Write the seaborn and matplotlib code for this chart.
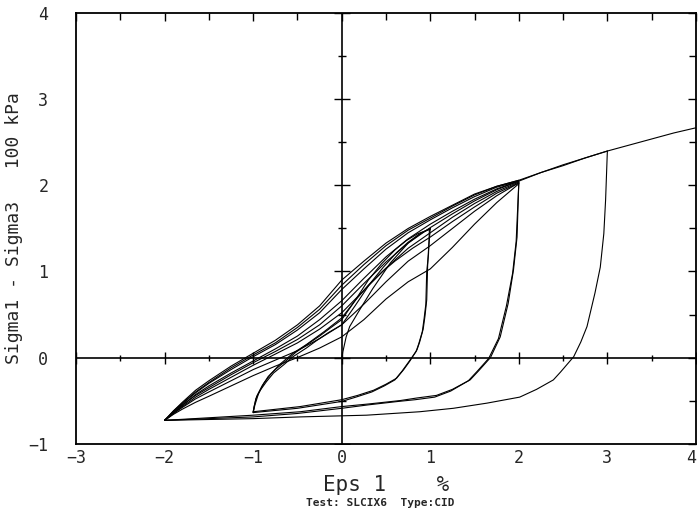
import matplotlib
matplotlib.use("Agg")
import matplotlib.pyplot as plt
import numpy as np
import pandas as pd
import seaborn as sns

# Strain (Eps 1, %) and deviator stress (100 kPa), one list per branch
first_load_x = [0.0, 0.02, 0.05, 0.09, 0.2, 0.35, 0.55, 0.75, 0.9, 1.0]
first_load_y = [0.0, 0.10, 0.24, 0.36, 0.55, 0.80, 1.10, 1.33, 1.45, 1.50]

unload1a_x = [1.0, 0.98, 0.97, 0.96, 0.94, 0.92, 0.88, 0.85, 0.77, 0.70, 0.62, 0.50, 0.36, 0.18, 0.0, -0.47, -1.0]
unload1a_y = [1.50, 1.25, 1.06, 0.67, 0.48, 0.33, 0.18, 0.09, -0.04, -0.14, -0.24, -0.31, -0.38, -0.44, -0.49, -0.57, -0.63]
unload1b_x = [0.99, 0.98, 0.96, 0.95, 0.93, 0.91, 0.87, 0.84, 0.75, 0.68, 0.60, 0.48, 0.34, 0.16, 0.0, -0.5, -1.0]
unload1b_y = [1.48, 1.20, 1.00, 0.62, 0.45, 0.30, 0.16, 0.07, -0.06, -0.16, -0.26, -0.33, -0.40, -0.46, -0.51, -0.59, -0.64]

reload1a_x = [-1.0, -0.99, -0.97, -0.92, -0.85, -0.77, -0.65, -0.55, -0.40, -0.28, -0.15, 0.0, 0.15, 0.32, 0.47, 0.62, 0.75, 0.87, 1.0]
reload1a_y = [-0.63, -0.58, -0.48, -0.38, -0.28, -0.18, -0.08, 0.01, 0.11, 0.20, 0.29, 0.38, 0.60, 0.86, 1.05, 1.22, 1.34, 1.43, 1.50]
reload1b_x = [-1.0, -0.99, -0.96, -0.90, -0.83, -0.74, -0.62, -0.52, -0.38, -0.25, -0.12, 0.0, 0.15, 0.30, 0.45, 0.60, 0.73, 0.86, 1.0]
reload1b_y = [-0.64, -0.57, -0.45, -0.33, -0.22, -0.13, -0.03, 0.06, 0.16, 0.25, 0.35, 0.44, 0.66, 0.90, 1.09, 1.25, 1.36, 1.44, 1.49]
reload1c_x = [-1.0, -0.98, -0.94, -0.88, -0.80, -0.70, -0.55, -0.40, -0.20, 0.0, 0.15, 0.30, 0.45, 0.60, 0.80, 1.0, 1.25, 1.5, 1.75, 2.0]
reload1c_y = [-0.64, -0.55, -0.42, -0.30, -0.19, -0.08, 0.05, 0.15, 0.30, 0.46, 0.66, 0.84, 0.99, 1.12, 1.27, 1.40, 1.58, 1.75, 1.91, 2.03]

unload2a_x = [2.0, 1.98, 1.94, 1.88, 1.79, 1.68, 1.55, 1.45, 1.25, 1.07, 0.85, 0.66, 0.30, 0.0, -0.47, -1.0, -1.5, -2.0]
unload2a_y = [2.04, 1.40, 1.02, 0.63, 0.24, 0.0, -0.15, -0.26, -0.37, -0.44, -0.47, -0.50, -0.54, -0.57, -0.63, -0.67, -0.70, -0.73]
unload2b_x = [2.0, 1.97, 1.93, 1.86, 1.77, 1.66, 1.53, 1.43, 1.23, 1.05, 0.83, 0.64, 0.30, 0.0, -0.5, -1.0, -1.5, -2.0]
unload2b_y = [2.03, 1.35, 0.98, 0.60, 0.22, -0.01, -0.16, -0.27, -0.39, -0.46, -0.49, -0.51, -0.55, -0.59, -0.65, -0.69, -0.71, -0.73]

# reloading branches from -2 % back up to +2 %
reload2_x = [-2.0, -1.9, -1.8, -1.65, -1.5, -1.25, -1.0, -0.75, -0.5, -0.25, 0.0, 0.25, 0.5, 0.75, 1.0, 1.25, 1.5, 1.75, 2.0]
reload2a_y = [-0.73, -0.62, -0.52, -0.38, -0.27, -0.10, 0.05, 0.20, 0.38, 0.60, 0.90, 1.12, 1.33, 1.50, 1.64, 1.77, 1.90, 1.99, 2.06]
reload2b_y = [-0.73, -0.63, -0.54, -0.41, -0.30, -0.14, 0.01, 0.15, 0.32, 0.52, 0.79, 1.03, 1.26, 1.45, 1.60, 1.74, 1.87, 1.98, 2.05]
reload2c_y = [-0.73, -0.64, -0.56, -0.43, -0.33, -0.18, -0.04, 0.10, 0.25, 0.44, 0.66, 0.92, 1.17, 1.38, 1.55, 1.70, 1.84, 1.96, 2.05]
reload2d_y = [-0.73, -0.65, -0.57, -0.46, -0.37, -0.23, -0.09, 0.04, 0.17, 0.33, 0.52, 0.78, 1.04, 1.27, 1.45, 1.63, 1.79, 1.93, 2.04]
reload2e_y = [-0.73, -0.65, -0.58, -0.48, -0.40, -0.27, -0.14, -0.03, 0.08, 0.22, 0.38, 0.62, 0.88, 1.12, 1.30, 1.50, 1.70, 1.88, 2.03]
reload2f_y = [-0.73, -0.66, -0.60, -0.52, -0.45, -0.33, -0.21, -0.10, 0.00, 0.11, 0.24, 0.44, 0.68, 0.88, 1.03, 1.28, 1.55, 1.80, 2.02]

# reloading from -2 % on to +3 %
reload3_x = [-2.0, -1.9, -1.8, -1.65, -1.5, -1.25, -1.0, -0.75, -0.5, -0.25, 0.0, 0.25, 0.5, 0.75, 1.0, 1.25, 1.5, 1.75, 2.0, 2.25, 2.5, 2.75, 3.0]
reload3_y = [-0.73, -0.62, -0.53, -0.40, -0.29, -0.12, 0.03, 0.17, 0.35, 0.56, 0.84, 1.08, 1.30, 1.48, 1.62, 1.76, 1.89, 1.99, 2.06, 2.15, 2.24, 2.32, 2.40]

unload3_x = [3.0, 2.98, 2.96, 2.92, 2.86, 2.77, 2.70, 2.62, 2.47, 2.39, 2.20, 2.01, 1.64, 1.26, 0.88, 0.28, -0.47, -1.0, -1.5, -2.0]
unload3_y = [2.40, 1.83, 1.44, 1.05, 0.75, 0.36, 0.18, 0.01, -0.17, -0.26, -0.37, -0.46, -0.53, -0.59, -0.63, -0.67, -0.69, -0.71, -0.72, -0.73]

# final reloading from -2 % up to +4 %
reload4_x = [-2.0, -1.9, -1.8, -1.65, -1.5, -1.25, -1.0, -0.75, -0.5, -0.25, 0.0, 0.25, 0.5, 0.75, 1.0, 1.25, 1.5, 1.75, 2.0, 2.25, 2.5, 2.75, 3.0, 3.25, 3.5, 3.75, 4.0]
reload4_y = [-0.73, -0.64, -0.55, -0.44, -0.35, -0.20, -0.06, 0.07, 0.21, 0.38, 0.60, 0.86, 1.11, 1.33, 1.51, 1.67, 1.82, 1.95, 2.05, 2.15, 2.23, 2.32, 2.40, 2.47, 2.54, 2.61, 2.67]

branches = {
    "first load": (first_load_x, first_load_y),
    "unload 1a": (unload1a_x, unload1a_y),
    "unload 1b": (unload1b_x, unload1b_y),
    "reload 1a": (reload1a_x, reload1a_y),
    "reload 1b": (reload1b_x, reload1b_y),
    "reload 1c": (reload1c_x, reload1c_y),
    "unload 2a": (unload2a_x, unload2a_y),
    "unload 2b": (unload2b_x, unload2b_y),
    "reload 2a": (reload2_x, reload2a_y),
    "reload 2b": (reload2_x, reload2b_y),
    "reload 2c": (reload2_x, reload2c_y),
    "reload 2d": (reload2_x, reload2d_y),
    "reload 2e": (reload2_x, reload2e_y),
    "reload 2f": (reload2_x, reload2f_y),
    "reload 3": (reload3_x, reload3_y),
    "unload 3": (unload3_x, unload3_y),
    "reload 4": (reload4_x, reload4_y),
}

df = pd.concat(
    [pd.DataFrame({"eps": bx, "q": by, "branch": name}) for name, (bx, by) in branches.items()],
    ignore_index=True,
)

sns.set_style("white")
plt.rcParams["font.family"] = ["DejaVu Sans Mono", "DejaVu Sans"]

fig = plt.figure(figsize=(6.98, 5.14), dpi=100)
ax = fig.add_axes([0.109, 0.137, 0.888, 0.837])

sns.lineplot(data=df, x="eps", y="q", units="branch", estimator=None, sort=False,
             color="black", lw=0.8, ax=ax)

# zero axes with cross ticks
ax.axhline(0, color="black", lw=1.2)
ax.axvline(0, color="black", lw=1.2)
xt_major = np.arange(-3, 5, 1)
xt_minor = np.arange(-2.5, 4, 1)
yt_major = np.arange(-1, 5, 1)
yt_minor = np.arange(-0.5, 4, 1)
ax.plot(xt_major, np.zeros_like(xt_major), ls="none", marker="|", ms=9, mew=1.0, color="black")
ax.plot(xt_minor, np.zeros_like(xt_minor), ls="none", marker="|", ms=5, mew=1.0, color="black")
ax.plot(np.zeros_like(yt_major), yt_major, ls="none", marker="_", ms=12, mew=1.0, color="black")
ax.plot(np.zeros_like(yt_minor), yt_minor, ls="none", marker="_", ms=6, mew=1.0, color="black")

ax.set_xlim(-3, 4)
ax.set_ylim(-1, 4)
ax.set_xticks(xt_major)
ax.set_xticks(xt_minor, minor=True)
ax.set_yticks(yt_major)
ax.set_yticks(yt_minor, minor=True)
ax.tick_params(which="both", direction="in", top=True, right=True, color="black")
ax.tick_params(which="major", length=6, width=1.0)
ax.tick_params(which="minor", length=5, width=1.0)
ax.tick_params(axis="x", labelsize=12, pad=4)
ax.tick_params(axis="y", labelsize=12, pad=20)
ax.get_xticklabels()[-1].set_horizontalalignment("right")
for sp in ax.spines.values():
    sp.set_color("black")
    sp.set_linewidth(1.3)

ax.set_xlabel("Eps 1    %", fontsize=15, labelpad=6)
ax.set_ylabel("Sigma1 - Sigma3   100 kPa", fontsize=13, labelpad=4)
fig.text(0.545, 0.012, "Test: SLCIX6  Type:CID", ha="center", va="bottom",
         fontsize=8, fontweight="bold")

fig.savefig("out.png", dpi=100)
